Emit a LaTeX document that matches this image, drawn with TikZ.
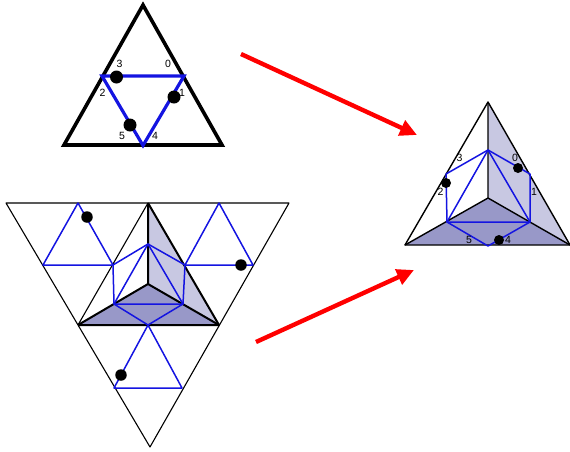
\documentclass[tikz,border=0pt]{standalone}
\usepackage{fontspec}
\setmainfont{Liberation Sans}
\usetikzlibrary{arrows.meta}
\definecolor{faceL}{RGB}{200,200,226}
\definecolor{faceD}{RGB}{152,152,200}
\definecolor{bl}{RGB}{20,20,225}
\tikzset{
  lab/.style={inner sep=0pt,font=\fontsize{10.5}{10.5}\selectfont,text=black},
  dot/.style={circle,fill=black,minimum size=#1,inner sep=0pt},
  blueA/.style={draw=bl,line width=3.2pt,line join=miter},
  blueB/.style={draw=bl,line width=1.5pt,line join=round},
  thick1/.style={draw=black,line width=3.6pt,line join=miter},
  thick2/.style={draw=black,line width=2pt,line join=round},
  thin1/.style={draw=black,line width=1.1pt,line join=round},
  redarrow/.style={draw=red,line width=4.4pt,-{Triangle[length=17pt,width=16pt]}},
}
\begin{document}
\begin{tikzpicture}[x=1pt,y=-1pt]
\useasboundingbox (0,0) rectangle (570,451);
% top triangle
\coordinate (ta) at (143,5);
\coordinate (tl) at (64,145);
\coordinate (tr) at (222,145);
\coordinate (b1) at (102,76);
\coordinate (b2) at (184,76);
\coordinate (b3) at (143,145.5);
\draw[thick1] (ta) -- (tl) -- (tr) -- cycle;
\draw[blueA] (b1) -- (b2) -- (b3) -- cycle;
\node[dot=13pt] (d1) at (116.5,77) {};
\node[dot=13pt] (d2) at (174,97) {};
\node[dot=13pt] (d3) at (130,125) {};
\node[lab] (l3) at (119.5,63.5) {3};
\node[lab] (l0) at (168,63.5) {0};
\node[lab] (l2) at (102.5,93) {2};
\node[lab] (l1) at (182,92.5) {1};
\node[lab] (l5) at (122,136) {5};
\node[lab] (l4) at (155,136) {4};
% right solid
\coordinate (ra) at (488,102);
\coordinate (rl) at (405,245);
\coordinate (rr) at (570,245);
\coordinate (rc) at (488,198);
\coordinate (p0) at (488,150);
\coordinate (p1) at (446,174);
\coordinate (p2) at (447,222);
\coordinate (p3) at (530,222);
\coordinate (p4) at (530,174);
\coordinate (p5) at (488,246);
\fill[faceL] (ra) -- (rr) -- (rc) -- cycle;
\fill[faceD] (rl) -- (rc) -- (rr) -- cycle;
\draw[thin1,line width=1.4pt] (ra) -- (rl) -- (rr) -- cycle;
\draw[thin1,line width=1.4pt] (ra) -- (rc) (rl) -- (rc) -- (rr);
\draw[blueB] (p0) -- (p1) -- (p2) -- (p5) -- (p3) -- (p4) -- cycle;
\draw[blueB] (p0) -- (p2) -- (p3) -- cycle;
\node[dot=10pt] (rd0) at (518,168) {};
\node[dot=10pt] (rd2) at (446,183) {};
\node[dot=10pt] (rd4) at (499,240) {};
\node[lab] (r3) at (459.5,158) {3};
\node[lab] (r0) at (515,158) {0};
\node[lab] (r2) at (440.5,192) {2};
\node[lab] (r1) at (534,192) {1};
\node[lab] (r5) at (469,240) {5};
\node[lab] (r4) at (508,240) {4};
% bottom net
\coordinate (nl) at (6,203);
\coordinate (nr) at (289,203);
\coordinate (nb) at (150,447);
\coordinate (ia) at (148,203);
\coordinate (il) at (78,325);
\coordinate (ir) at (219,325);
\coordinate (ic) at (148,284);
\coordinate (q0) at (148,244);
\coordinate (q1) at (113,265);
\coordinate (q2) at (114,304);
\coordinate (q3) at (183,304);
\coordinate (q4) at (185,265);
\coordinate (q5) at (148,325);
\fill[faceL] (ia) -- (ir) -- (ic) -- cycle;
\fill[faceD] (il) -- (ic) -- (ir) -- cycle;
\draw[thin1] (nl) -- (nr) -- (nb) -- cycle;
\draw[thin1] (ia) -- (il);
\draw[thick2] (ia) -- (ir) -- (il);
\draw[thick2] (il) -- (ic) -- (ir) (ia) -- (ic);
\draw[blueB] (q0) -- (q1) -- (q2) -- (q5) -- (q3) -- (q4) -- cycle;
\draw[blueB] (q0) -- (q2) -- (q3) -- cycle;
% flaps
\coordinate (f1) at (78,203);
\coordinate (f2) at (43,265);
\coordinate (f3) at (219,203);
\coordinate (f4) at (253,265);
\coordinate (f5) at (114,388);
\coordinate (f6) at (182,388);
\draw[blueB] (q1) -- (f2) -- (f1) -- cycle;
\draw[blueB] (q4) -- (f4) -- (f3) -- cycle;
\draw[blueB] (q5) -- (f5) -- (f6) -- cycle;
\node[dot=11.5pt] (nd1) at (87,217) {};
\node[dot=11.5pt] (nd2) at (241,265) {};
\node[dot=11.5pt] (nd3) at (121,375) {};
% arrows
\coordinate (a1s) at (241,54);
\coordinate (a1e) at (417,135);
\coordinate (a2s) at (256,342);
\coordinate (a2e) at (414,270);
\draw[redarrow] (a1s) -- (a1e);
\draw[redarrow] (a2s) -- (a2e);
\end{tikzpicture}
\end{document}
